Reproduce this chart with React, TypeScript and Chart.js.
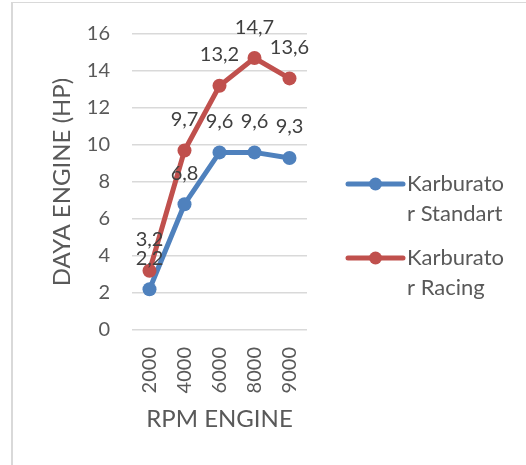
import React, { useEffect, useRef } from "react";
import { Chart, registerables } from "chart.js";

Chart.register(...registerables);

// ---- data ----
const rpmLabels = ["2000", "4000", "6000", "8000", "9000"];
const standartValues = [2.2, 6.8, 9.6, 9.6, 9.3];
const racingValues = [3.2, 9.7, 13.2, 14.7, 13.6];
const seriesNames = ["Karburator Standart", "Karburator Racing"];
const legendLines = [
  ["Karburato", "r Standart"],
  ["Karburato", "r Racing"],
];
const yMin = 0;
const yMax = 16;
const yStep = 2;
const xTitle = "RPM ENGINE";
const yTitle = "DAYA ENGINE (HP)";

// ---- styles ----
const FONT = "Lato, 'Open Sans', 'Liberation Sans', sans-serif";
const BLUE = "#4F81BD";
const RED = "#C0504D";
const TEXT = "#595959";
const LABEL = "#404040";
const GRID = "#d9d9d9";

const dataLabelPlugin = {
  id: "dataLabels",
  afterDatasetsDraw(chart: any) {
    const ctx = chart.ctx;
    ctx.save();
    ctx.font = `20px ${FONT}`;
    ctx.fillStyle = LABEL;
    ctx.textAlign = "center";
    ctx.textBaseline = "middle";
    chart.data.datasets.forEach((ds: any, i: number) => {
      const meta = chart.getDatasetMeta(i);
      meta.data.forEach((pt: any, j: number) => {
        const v = ds.data[j];
        ctx.fillText(String(v).replace(".", ","), pt.x, pt.y - 31);
      });
    });
    ctx.restore();
  },
};

const legendPlugin = {
  id: "sideLegend",
  afterDraw(chart: any) {
    const ctx = chart.ctx;
    ctx.save();
    const lineX0 = 348;
    const lineX1 = 403;
    const textX = 407;
    const rowsY = [184, 258];
    const lineGap = 29.5;
    chart.data.datasets.forEach((ds: any, i: number) => {
      const y = rowsY[i];
      ctx.strokeStyle = ds.borderColor;
      ctx.lineWidth = 5;
      ctx.lineCap = "round";
      ctx.beginPath();
      ctx.moveTo(lineX0, y);
      ctx.lineTo(lineX1, y);
      ctx.stroke();
      ctx.fillStyle = ds.borderColor;
      ctx.beginPath();
      ctx.arc((lineX0 + lineX1) / 2, y, 6.5, 0, Math.PI * 2);
      ctx.fill();
      ctx.font = `22px ${FONT}`;
      ctx.fillStyle = TEXT;
      ctx.textAlign = "left";
      ctx.textBaseline = "middle";
      legendLines[i].forEach((t, k) => {
        ctx.fillText(t, textX, y + k * lineGap);
      });
    });
    ctx.restore();
  },
};

export default function App() {
  const canvasRef = useRef<HTMLCanvasElement | null>(null);

  useEffect(() => {
    document.body.style.margin = "0";
    const canvas = canvasRef.current;
    if (!canvas) return;
    const chart = new Chart(canvas, {
      type: "line",
      data: {
        labels: rpmLabels,
        datasets: [
          {
            label: seriesNames[0],
            data: standartValues,
            borderColor: BLUE,
            backgroundColor: BLUE,
            borderWidth: 5,
            pointRadius: 7,
            pointBorderWidth: 0,
            pointBackgroundColor: BLUE,
            tension: 0,
            order: 1,
          },
          {
            label: seriesNames[1],
            data: racingValues,
            borderColor: RED,
            backgroundColor: RED,
            borderWidth: 5,
            pointRadius: 7,
            pointBorderWidth: 0,
            pointBackgroundColor: RED,
            tension: 0,
            order: 0,
          },
        ],
      },
      options: {
        responsive: false,
        animation: false,
        devicePixelRatio: 1,
        layout: { padding: { left: 0, top: 32, right: 219, bottom: 0 } },
        plugins: {
          legend: { display: false },
          tooltip: { enabled: false },
        },
        scales: {
          x: {
            type: "category",
            offset: true,
            grid: { display: false, drawTicks: false },
            border: { display: false },
            ticks: {
              minRotation: 90,
              maxRotation: 90,
              padding: 17,
              color: TEXT,
              font: { family: FONT, size: 20 },
            },
            title: {
              display: true,
              text: xTitle,
              color: TEXT,
              font: { family: FONT, size: 24 },
              padding: { top: 0, bottom: 31 },
            },
            afterFit: (s: any) => {
              s.height = 135;
            },
          },
          y: {
            min: yMin,
            max: yMax,
            ticks: {
              stepSize: yStep,
              padding: 22,
              color: TEXT,
              font: { family: FONT, size: 20 },
            },
            grid: { color: GRID, lineWidth: 1.5, drawTicks: false },
            border: { display: false },
            title: {
              display: true,
              text: yTitle,
              color: TEXT,
              font: { family: FONT, size: 24 },
              padding: { top: 48, bottom: 0 },
            },
            afterFit: (s: any) => {
              s.width = 132;
            },
          },
        },
      },
      plugins: [dataLabelPlugin, legendPlugin],
    });
    return () => chart.destroy();
  }, []);

  return (
    <div
      style={{
        position: "fixed",
        left: 0,
        top: 0,
        width: 526,
        height: 465,
        overflow: "hidden",
        background: "#fff",
      }}
    >
      <div
        style={{
          position: "absolute",
          left: 11,
          top: 2,
          width: 700,
          height: 700,
          borderLeft: `2px solid ${GRID}`,
          borderTop: `1.5px solid ${GRID}`,
        }}
      />
      <canvas
        ref={canvasRef}
        width={526}
        height={465}
        style={{ position: "absolute", left: 0, top: 0, width: 526, height: 465 }}
      />
    </div>
  );
}
